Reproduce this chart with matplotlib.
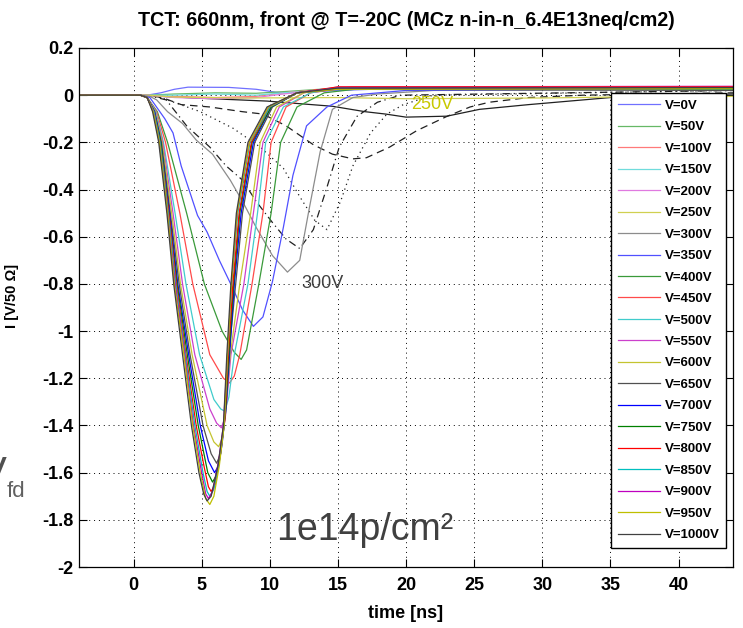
import matplotlib
matplotlib.use('Agg')
import matplotlib.pyplot as plt

plt.rcParams['font.family'] = ['Liberation Sans', 'DejaVu Sans']
plt.rcParams['axes.unicode_minus'] = False

# bias voltages and MATLAB-style colour cycle (first pass drawn lighter)
volts = [0, 50, 100, 150, 200, 250, 300, 350, 400, 450, 500,
         550, 600, 650, 700, 750, 800, 850, 900, 950, 1000]
colors = ['#7070ff', '#66b866', '#ff7a7a', '#70dcdc', '#e07ae0', '#d0d050', '#8c8c8c',
          '#5050ff', '#3a9a3a', '#ff4a4a', '#40cccc', '#cc40cc', '#c4c430', '#505050',
          '#0000ff', '#008000', '#ff0000', '#00bfbf', '#bf00bf', '#bfbf00', '#404040']

# waveforms: time [ns] and current [V/50 Ohm]
t_0 = [-4, 1.0, 2.0, 3.0, 4.0, 7.0, 9.0, 10.5, 12.0, 15.0, 20.0, 44]
i_0 = [0, 0, 0.01, 0.025, 0.034, 0.033, 0.025, 0.012, 0.01, 0.02, 0.03, 0.03]
t_50 = [-4, 1.0, 3.0, 6.0, 9.0, 11.0, 15.0, 44]
i_50 = [0, 0, 0.005, 0.01, 0.008, 0.015, 0.03, 0.035]
t_100 = [-4, 1.0, 3.0, 6.0, 9.0, 11.0, 15.0, 44]
i_100 = [0, 0, -0.005, -0.01, -0.005, 0.01, 0.03, 0.03]
t_150 = [-4, 1.0, 3.0, 6.0, 9.0, 11.0, 15.0, 44]
i_150 = [0, 0, 0.0, 0.005, 0.0, 0.01, 0.025, 0.03]
t_200 = [-4, 1.0, 3.0, 6.0, 9.0, 11.0, 15.0, 44]
i_200 = [0, 0, -0.01, -0.015, -0.01, 0.005, 0.03, 0.035]
t_250 = [-4, 1.0, 3.0, 8.0, 15.0, 20.0, 30.0, 35.0, 44]
i_250 = [0, 0, -0.008, -0.012, -0.01, -0.015, -0.012, -0.008, -0.005]
t_300 = [-4, 0.5, 1.2, 1.7, 2.5, 3.6, 4.6, 5.8, 7.1, 8.0, 9.0, 10.2, 11.3, 12.2,
         12.9, 13.7, 14.6, 16.1, 17.9, 22, 44]
i_300 = [0, 0, -0.005, -0.02, -0.07, -0.12, -0.19, -0.25, -0.36, -0.45, -0.56, -0.68,
         -0.75, -0.70, -0.48, -0.24, -0.06, -0.01, 0.005, 0.02, 0.025]
t_350 = [-4, 0.5, 1.2, 2.3, 2.9, 3.5, 4.3, 4.7, 5.4, 6.3, 7.3, 8.0, 8.8, 9.5, 10.2,
         11.0, 11.7, 12.7, 14.2, 16.0, 20.0, 44]
i_350 = [0, 0, -0.01, -0.1, -0.16, -0.30, -0.44, -0.51, -0.58, -0.70, -0.82, -0.91,
         -0.98, -0.94, -0.79, -0.56, -0.34, -0.13, -0.05, 0.0, 0.02, 0.03]
t_400 = [-4, 0.5, 1.0, 1.75, 2.5, 3.9, 5.2, 6.5, 7.4, 7.9, 8.3, 9.2, 10.1, 10.8,
         12.0, 14.0, 17.0, 44]
i_400 = [0, 0, -0.01, -0.07, -0.2, -0.5, -0.8, -1.0, -1.09, -1.12, -1.08, -0.8, -0.5,
         -0.2, -0.05, 0.01, 0.03, 0.025]
t_450 = [-4, 0.5, 1.0, 1.7, 2.35, 3.4, 4.35, 5.6, 6.6, 7.05, 7.4, 7.8, 8.7, 9.5,
         10.1, 11.2, 13.0, 16.0, 44]
i_450 = [0, 0, -0.01, -0.07, -0.2, -0.5, -0.8, -1.1, -1.2, -1.22, -1.19, -1.1, -0.8,
         -0.5, -0.2, -0.05, 0.01, 0.035, 0.035]
t_500 = [-4, 0.5, 1.0, 1.65, 2.2, 3.05, 3.85, 4.85, 5.9, 6.4, 6.7, 7.0, 7.4, 8.4,
         9.1, 9.7, 11.0, 13.0, 15.0, 44]
i_500 = [0, 0, -0.01, -0.07, -0.2, -0.5, -0.8, -1.1, -1.29, -1.33, -1.34, -1.28, -1.1,
         -0.8, -0.5, -0.2, -0.05, 0.01, 0.03, 0.03]
t_550 = [-4, 0.5, 1.0, 1.6, 2.15, 2.9, 3.6, 4.5, 5.6, 6.1, 6.45, 6.75, 7.15, 8.1, 8.8,
         9.5, 10.7, 12.5, 15.0, 44]
i_550 = [0, 0, -0.01, -0.07, -0.2, -0.5, -0.8, -1.1, -1.33, -1.39, -1.41, -1.36, -1.1,
         -0.8, -0.5, -0.2, -0.05, 0.01, 0.035, 0.038]
t_600 = [-4, 0.5, 1.0, 1.6, 2.1, 2.8, 3.45, 4.3, 5.4, 5.9, 6.25, 6.55, 6.8, 7.1, 7.8,
         8.6, 9.3, 10.5, 12.5, 15.0, 44]
i_600 = [0, 0, -0.01, -0.07, -0.2, -0.5, -0.8, -1.1, -1.4, -1.47, -1.49, -1.45, -1.3,
         -1.1, -0.8, -0.5, -0.2, -0.05, 0.01, 0.03, 0.03]
t_650 = [-4, 0.5, 1.0, 1.55, 2.05, 2.7, 3.35, 4.15, 5.1, 5.7, 6.1, 6.4, 6.7, 7.0, 7.5,
         8.0, 8.9, 10.2, 12.0, 15.0, 44]
i_650 = [0, 0, -0.01, -0.07, -0.2, -0.5, -0.8, -1.1, -1.4, -1.52, -1.56, -1.52, -1.35,
         -1.1, -0.8, -0.5, -0.2, -0.05, 0.01, 0.025, 0.02]
t_700 = [-4, 0.5, 1.0, 1.55, 2.0, 2.65, 3.25, 4.05, 4.9, 5.5, 5.95, 6.25, 6.5, 6.8,
         7.05, 7.4, 7.9, 8.8, 10.1, 12.0, 15.0, 44]
i_700 = [0, 0, -0.01, -0.07, -0.2, -0.5, -0.8, -1.1, -1.4, -1.55, -1.60, -1.57, -1.48,
         -1.32, -1.1, -0.8, -0.5, -0.2, -0.05, 0.01, 0.03, 0.033]
t_750 = [-4, 0.5, 1.0, 1.5, 2.0, 2.6, 3.2, 3.95, 4.75, 5.45, 5.8, 6.1, 6.4, 6.75, 7.0,
         7.35, 7.8, 8.7, 10.1, 12.0, 15.0, 44]
i_750 = [0, 0, -0.01, -0.07, -0.2, -0.5, -0.8, -1.1, -1.4, -1.6, -1.64, -1.61, -1.5,
         -1.35, -1.1, -0.8, -0.5, -0.2, -0.05, 0.01, 0.03, 0.03]
t_800 = [-4, 0.5, 1.0, 1.5, 1.95, 2.6, 3.15, 3.85, 4.6, 5.2, 5.5, 5.7, 6.0, 6.35, 6.7,
         6.95, 7.3, 7.75, 8.65, 10.0, 12.0, 15.0, 44]
i_800 = [0, 0, -0.01, -0.07, -0.2, -0.5, -0.8, -1.1, -1.4, -1.58, -1.66, -1.68, -1.65,
         -1.53, -1.38, -1.1, -0.8, -0.5, -0.2, -0.05, 0.01, 0.035, 0.035]
t_850 = [-4, 0.5, 1.0, 1.5, 1.95, 2.55, 3.1, 3.8, 4.5, 5.1, 5.4, 5.6, 5.9, 6.3, 6.65,
         6.9, 7.2, 7.65, 8.55, 10.0, 12.0, 15.0, 44]
i_850 = [0, 0, -0.01, -0.07, -0.2, -0.5, -0.8, -1.1, -1.4, -1.6, -1.68, -1.70, -1.67,
         -1.55, -1.4, -1.1, -0.8, -0.5, -0.2, -0.05, 0.01, 0.03, 0.028]
t_900 = [-4, 0.5, 1.0, 1.45, 1.9, 2.5, 3.05, 3.75, 4.4, 5.0, 5.3, 5.5, 5.8, 6.25, 6.6,
         6.9, 7.2, 7.6, 8.5, 9.9, 12.0, 15.0, 44]
i_900 = [0, 0, -0.01, -0.07, -0.2, -0.5, -0.8, -1.1, -1.4, -1.6, -1.69, -1.71, -1.68,
         -1.55, -1.4, -1.1, -0.8, -0.5, -0.2, -0.05, 0.01, 0.03, 0.03]
t_950 = [-4, 0.5, 1.0, 1.45, 1.9, 2.5, 3.0, 3.7, 4.35, 4.9, 5.3, 5.6, 5.9, 6.3, 6.65,
         6.9, 7.2, 7.6, 8.5, 9.9, 12.0, 15.0, 44]
i_950 = [0, 0, -0.01, -0.07, -0.2, -0.5, -0.8, -1.1, -1.4, -1.6, -1.71, -1.735, -1.70,
         -1.57, -1.4, -1.1, -0.8, -0.5, -0.2, -0.05, 0.01, 0.025, 0.028]
t_1000 = [-4, 0.5, 1.0, 1.4, 1.85, 2.45, 2.95, 3.6, 4.25, 4.8, 5.15, 5.4, 5.7, 6.2,
          6.6, 6.85, 7.15, 7.55, 8.4, 9.8, 12.0, 15.0, 44]
i_1000 = [0, 0, -0.01, -0.07, -0.2, -0.5, -0.8, -1.1, -1.4, -1.6, -1.69, -1.72, -1.70,
          -1.57, -1.4, -1.1, -0.8, -0.5, -0.2, -0.05, 0.01, 0.03, 0.032]

# extra black traces (not in legend)
t_solid = [-4, 1.0, 1.7, 4.9, 9.8, 14.6, 17.0, 18.5, 20.0, 23.0, 25.4, 29.0, 35.0, 40.0, 44]
i_solid = [0, 0, -0.004, -0.013, -0.025, -0.047, -0.07, -0.08, -0.093, -0.089, -0.06,
           -0.04, -0.01, 0.0, 0.005]
t_dash = [-4, 1.0, 2.1, 3.5, 5.6, 8.0, 9.5, 11.2, 13.2, 14.6, 16.1, 17.1, 18.8, 20.8,
          23.0, 24.7, 26.1, 29.0, 33.0, 44]
i_dash = [0, 0, -0.01, -0.04, -0.05, -0.07, -0.08, -0.13, -0.21, -0.25, -0.27, -0.265,
          -0.22, -0.15, -0.09, -0.05, -0.03, -0.01, 0.0, 0.01]
t_dot = [-4, 1.0, 2.0, 4.9, 7.3, 9.3, 11.0, 12.2, 13.3, 14.2, 15.2, 16.1, 17.4, 18.6,
         19.8, 22.0, 44]
i_dot = [0, 0, -0.01, -0.07, -0.14, -0.22, -0.31, -0.43, -0.53, -0.57, -0.45, -0.3,
         -0.16, -0.08, -0.04, 0.0, 0.02]
t_dashdot = [-4, 1.0, 2.4, 3.9, 5.6, 6.8, 8.0, 9.0, 10.2, 11.2, 12.2, 13.2, 14.2, 15.1,
             16.4, 17.9, 19.6, 44]
i_dashdot = [0, 0, -0.02, -0.13, -0.22, -0.30, -0.36, -0.45, -0.54, -0.61, -0.65, -0.57,
             -0.39, -0.22, -0.09, -0.03, 0.0, 0.02]

x_ticks = [0, 5, 10, 15, 20, 25, 30, 35, 40]
y_ticks = [-2, -1.8, -1.6, -1.4, -1.2, -1, -0.8, -0.6, -0.4, -0.2, 0, 0.2]

waves = [(t_0, i_0), (t_50, i_50), (t_100, i_100), (t_150, i_150), (t_200, i_200),
         (t_250, i_250), (t_300, i_300), (t_350, i_350), (t_400, i_400), (t_450, i_450),
         (t_500, i_500), (t_550, i_550), (t_600, i_600), (t_650, i_650), (t_700, i_700),
         (t_750, i_750), (t_800, i_800), (t_850, i_850), (t_900, i_900), (t_950, i_950),
         (t_1000, i_1000)]

fig = plt.figure(figsize=(7.43, 6.28), dpi=100)
ax = fig.add_axes([79 / 743, 61 / 628, 654 / 743, 519 / 628])

ax.plot(t_solid, i_solid, color='#202020', lw=0.9)
ax.plot(t_dash, i_dash, color='#202020', lw=0.9, linestyle=(0, (6, 4)))
ax.plot(t_dot, i_dot, color='#202020', lw=0.9, linestyle=(0, (1, 3)))
ax.plot(t_dashdot, i_dashdot, color='#202020', lw=0.9, linestyle=(0, (6, 3, 1, 3)))

for v, c, (t, i) in zip(volts, colors, waves):
    ax.plot(t, i, color=c, lw=0.9, label='V=%dV' % v)

ax.set_xlim(-4, 44)
ax.set_ylim(-2, 0.2)
ax.set_xticks(x_ticks)
ax.set_yticks(y_ticks)
ax.set_xticklabels(['%g' % x for x in x_ticks], fontsize=13, fontweight='bold')
ax.set_yticklabels(['%g' % y for y in y_ticks], fontsize=13, fontweight='bold')
ax.tick_params(direction='in', length=6, width=0.8, top=True, right=True)
ax.tick_params(axis='x', pad=7)
ax.tick_params(axis='y', pad=4)
ax.grid(True, linestyle=(0, (1, 4)), color='black', lw=0.7)
for s in ax.spines.values():
    s.set_linewidth(0.9)

ax.set_title('TCT: 660nm, front @ T=-20C (MCz n-in-n_6.4E13neq/cm2)',
             fontsize=14.2, fontweight='bold', pad=16)
ax.set_xlabel('time [ns]', fontsize=13, fontweight='bold')
ax.xaxis.set_label_coords(0.5, -0.074)
ax.set_ylabel('I [V/50 Ω]', fontsize=10.5, fontweight='bold')
ax.yaxis.set_label_coords(-0.092, 0.522)

ax.text(21.9, -0.04, '250V', color='#c8c800', fontsize=13, ha='center', va='center')
ax.text(13.9, -0.80, '300V', color='#404040', fontsize=13, ha='center', va='center')
ax.text(17.0, -1.845, '1e14p/cm²', color='#404040', fontsize=27, ha='center', va='center')

fig.text(-20 / 743, 143 / 628, 'V', fontsize=29, color='#505050')
fig.text(7 / 743, 131 / 628, 'fd', fontsize=16, color='#606060')

ax.legend(loc='upper left', bbox_to_anchor=(611 / 743, 1 - 93 / 628),
          bbox_transform=fig.transFigure, prop={'size': 9.5, 'weight': 'bold'},
          frameon=True, fancybox=False, edgecolor='black', framealpha=1,
          borderpad=0.5, labelspacing=0.7, handlelength=3.2, handletextpad=0.35,
          borderaxespad=0)

fig.savefig('out.png', dpi=100)
